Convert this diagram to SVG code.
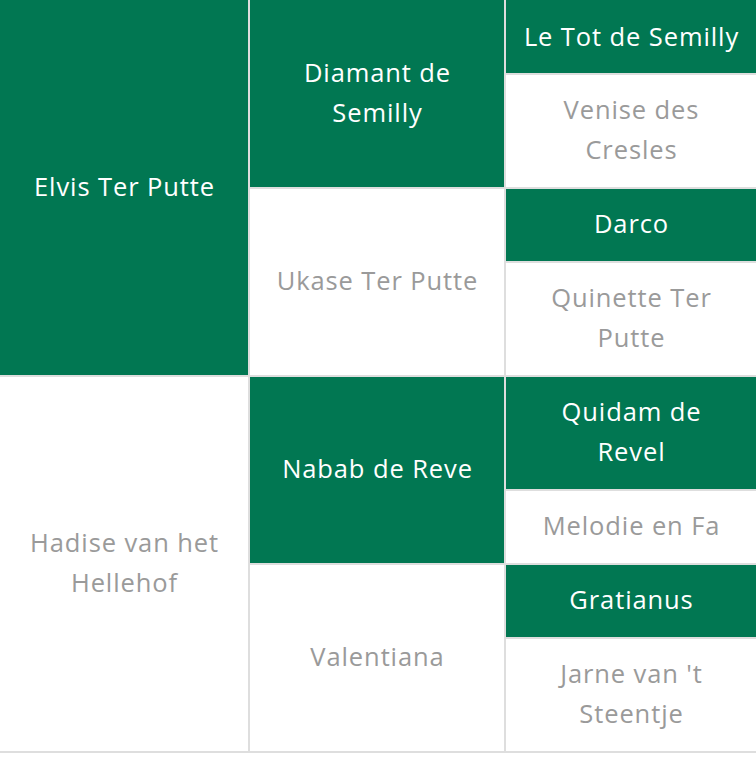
<svg xmlns="http://www.w3.org/2000/svg" width="756" height="761" viewBox="0 0 756 761">
<style>
.g{fill:#017752}
.w{fill:#ffffff}
text{font-family:"Open Sans","Noto Sans","Liberation Sans",sans-serif;font-size:25.5px;letter-spacing:0.9px;text-anchor:middle}
.tg{fill:#ffffff}
.tw{fill:#9a9a9a}
</style>
<rect x="0" y="0" width="756" height="761" fill="#ffffff"/>
<g id="grid">
<rect x="0" y="0" width="756" height="753" fill="#dedede"/>
</g>
<g id="elvis"><rect class="g" x="0" y="0" width="248" height="375"/><text class="tg" x="124.5" y="196">Elvis Ter Putte</text></g>
<g id="hadise"><rect class="w" x="0" y="377" width="248" height="374"/><text class="tw" x="124.5" y="552">Hadise van het</text><text class="tw" x="124.5" y="592">Hellehof</text></g>
<g id="diamant"><rect class="g" x="250" y="0" width="254" height="187"/><text class="tg" x="377.5" y="82">Diamant de</text><text class="tg" x="377.5" y="122">Semilly</text></g>
<g id="ukase"><rect class="w" x="250" y="189" width="254" height="186"/><text class="tw" x="377.5" y="290">Ukase Ter Putte</text></g>
<g id="nabab"><rect class="g" x="250" y="377" width="254" height="186"/><text class="tg" x="377.5" y="478">Nabab de Reve</text></g>
<g id="valentiana"><rect class="w" x="250" y="565" width="254" height="186"/><text class="tw" x="377.5" y="666">Valentiana</text></g>
<g id="letot"><rect class="g" x="506" y="0" width="250" height="73"/><text class="tg" x="631.5" y="46">Le Tot de Semilly</text></g>
<g id="venise"><rect class="w" x="506" y="75" width="250" height="112"/><text class="tw" x="631.5" y="119">Venise des</text><text class="tw" x="631.5" y="159">Cresles</text></g>
<g id="darco"><rect class="g" x="506" y="189" width="250" height="72"/><text class="tg" x="631.5" y="233">Darco</text></g>
<g id="quinette"><rect class="w" x="506" y="263" width="250" height="112"/><text class="tw" x="631.5" y="307">Quinette Ter</text><text class="tw" x="631.5" y="347">Putte</text></g>
<g id="quidam"><rect class="g" x="506" y="377" width="250" height="112"/><text class="tg" x="631.5" y="421">Quidam de</text><text class="tg" x="631.5" y="461">Revel</text></g>
<g id="melodie"><rect class="w" x="506" y="491" width="250" height="72"/><text class="tw" x="631.5" y="535">Melodie en Fa</text></g>
<g id="gratianus"><rect class="g" x="506" y="565" width="250" height="72"/><text class="tg" x="631.5" y="609">Gratianus</text></g>
<g id="jarne"><rect class="w" x="506" y="639" width="250" height="112"/><text class="tw" x="631.5" y="683">Jarne van 't</text><text class="tw" x="631.5" y="723">Steentje</text></g>
</svg>
